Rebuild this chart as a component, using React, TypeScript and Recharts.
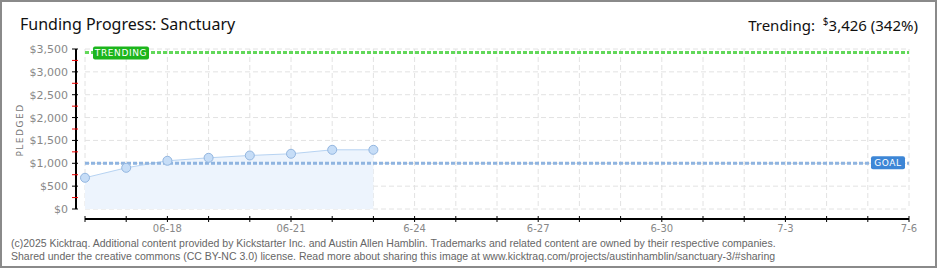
import { ComposedChart, Area, XAxis, YAxis, CartesianGrid, ReferenceLine } from 'recharts'

// days on the x axis, 6-16 .. 7-6
const dayTicks = ['06-16', '06-17', '06-18', '06-19', '06-20', '06-21', '06-22', '06-23', '6-24', '6-25', '6-26', '6-27', '6-28', '6-29', '6-30', '7-1', '7-2', '7-3', '7-4', '7-5', '7-6']
const labeledDays = ['06-18', '06-21', '6-24', '6-27', '6-30', '7-3', '7-6']

// pledged total per day, starting 06-16
const pledged = [683, 901, 1055, 1120, 1171, 1208, 1295, 1295]

const yTicks = [0, 250, 500, 750, 1000, 1250, 1500, 1750, 2000, 2250, 2500, 2750, 3000, 3250, 3500]
const yLabeled = [0, 500, 1000, 1500, 2000, 2500, 3000, 3500]

const goal = 1000
const trending = 3426

const data = pledged.map((v, i) => ({ day: i, pledged: v }))
const xTicks = dayTicks.map((_, i) => i)

const axisFont = '"DejaVu Sans", sans-serif'

function YTick(props: any) {
  const { x, y, payload } = props
  const major = yLabeled.includes(payload.value)
  return (
    <g>
      <line x1={x - 13} x2={x - 7} y1={y} y2={y} stroke={major ? '#000' : '#e00'} strokeWidth={1} />
      {major && (
        <text x={x - 17} y={y} dy={4} textAnchor="end" fontSize={11} fill="#888" fontFamily={axisFont}>
          {'$' + payload.value.toLocaleString('en-US')}
        </text>
      )}
    </g>
  )
}

function XTick(props: any) {
  const { x, y, payload } = props
  const name = dayTicks[payload.value]
  const show = labeledDays.includes(name)
  return (
    <g>
      <line x1={x} x2={x} y1={y + 7} y2={y + 13} stroke="#000" strokeWidth={1} />
      {show && (
        <text x={x} y={y + 23} textAnchor="middle" fontSize={10} fill="#888" fontFamily={axisFont}>
          {name}
        </text>
      )}
    </g>
  )
}

function TrendLabel(props: any) {
  const vb = props.viewBox
  return (
    <g>
      <rect x={vb.x + 8} y={vb.y - 6} width={56} height={13} rx={2} fill="#1cb51c" />
      <text x={vb.x + 36} y={vb.y + 4} textAnchor="middle" fontSize={9} fill="#fff" fontFamily={axisFont} letterSpacing={0.6}>
        TRENDING
      </text>
    </g>
  )
}

function GoalLabel(props: any) {
  const vb = props.viewBox
  const right = vb.x + vb.width - 4
  return (
    <g>
      <rect x={right - 34} y={vb.y - 7} width={34} height={13} rx={2} fill="#3d86d6" />
      <text x={right - 17} y={vb.y + 3} textAnchor="middle" fontSize={9} fill="#fff" fontFamily={axisFont} letterSpacing={0.6}>
        GOAL
      </text>
    </g>
  )
}

export default function App() {
  return (
    <div
      style={{
        position: 'absolute',
        left: 0,
        top: 0,
        width: 937,
        height: 268,
        boxSizing: 'border-box',
        border: '2px solid #8a8a8a',
        background: '#fff',
        overflow: 'hidden',
      }}
    >
      <div style={{ position: 'absolute', left: -2, top: -2 }}>
        <ComposedChart width={940} height={270} data={data} margin={{ top: 49, right: 31, bottom: 31, left: 0 }}>
          <CartesianGrid
            stroke="#e2e2e2"
            strokeDasharray="5 3"
            horizontalValues={yLabeled}
            verticalValues={xTicks}
          />
          <XAxis
            dataKey="day"
            type="number"
            domain={[0, dayTicks.length - 1]}
            ticks={xTicks}
            interval={0}
            height={30}
            tickSize={0}
            tickMargin={0}
            axisLine={{ stroke: '#000', strokeWidth: 2, transform: 'translate(0,10)' }}
            tickLine={false}
            tick={<XTick />}
          />
          <YAxis
            type="number"
            domain={[0, 3500]}
            ticks={yTicks}
            interval={0}
            width={85}
            tickSize={0}
            tickMargin={0}
            axisLine={{ stroke: '#000', strokeWidth: 2, transform: 'translate(-9,0)' }}
            tickLine={false}
            tick={<YTick />}
          />
          <Area
            type="linear"
            dataKey="pledged"
            stroke="#b7d3f2"
            strokeWidth={1}
            fill="#edf4fd"
            fillOpacity={1}
            dot={{ r: 4.5, fill: '#c6ddf7', stroke: '#93b6e0', strokeWidth: 1 }}
            isAnimationActive={false}
          />
          <ReferenceLine y={goal} stroke="#8fb4e0" strokeWidth={3} strokeDasharray="4 2" label={<GoalLabel />} />
          <ReferenceLine y={trending} stroke="#62d85a" strokeWidth={3} strokeDasharray="4 2" label={<TrendLabel />} />
        </ComposedChart>
      </div>

      <div
        style={{
          position: 'absolute',
          left: 18,
          top: 11,
          fontFamily: '"Noto Sans", sans-serif',
          fontSize: 16,
          color: '#111',
          whiteSpace: 'nowrap',
        }}
      >
        Funding Progress: Sanctuary
      </div>
      <div
        style={{
          position: 'absolute',
          right: 17,
          top: 12,
          fontFamily: '"Noto Sans", sans-serif',
          fontSize: 15,
          color: '#111',
          whiteSpace: 'nowrap',
        }}
      >
        Trending:&nbsp; <sup style={{ fontSize: 10 }}>$</sup>3,426 (342%)
      </div>
      <div
        style={{
          position: 'absolute',
          left: 18,
          top: 128,
          transform: 'translate(-50%, -50%) rotate(-90deg)',
          fontFamily: axisFont,
          fontSize: 9,
          letterSpacing: 1.5,
          color: '#777',
          whiteSpace: 'nowrap',
        }}
      >
        PLEDGED
      </div>
      <div
        style={{
          position: 'absolute',
          left: 9,
          top: 235,
          fontFamily: '"Liberation Sans", Arial, sans-serif',
          fontSize: 10.5,
          lineHeight: '13px',
          color: '#666',
          whiteSpace: 'nowrap',
        }}
      >
        <div>(c)2025 Kicktraq. Additional content provided by Kickstarter Inc. and Austin Allen Hamblin. Trademarks and related content are owned by their respective companies.</div>
        <div>Shared under the creative commons (CC BY-NC 3.0) license. Read more about sharing this image at www.kicktraq.com/projects/austinhamblin/sanctuary-3/#sharing</div>
      </div>
    </div>
  )
}
